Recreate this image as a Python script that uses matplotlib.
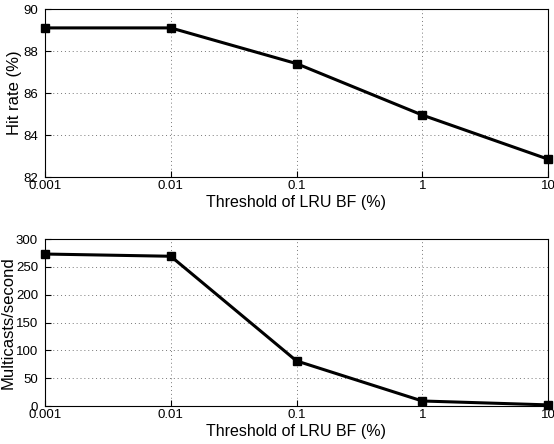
import matplotlib.pyplot as plt
import matplotlib.ticker as mticker

plt.rcParams['font.family'] = ['Liberation Sans', 'DejaVu Sans']

# data
thresholds = [0.001, 0.01, 0.1, 1, 10]
tick_labels = ["0.001", "0.01", "0.1", "1", "10"]
hit_rate = [89.1, 89.1, 87.4, 84.95, 82.85]
multicasts = [273, 269, 81, 9, 2]

fig = plt.figure(figsize=(5.54, 4.44), dpi=100)
ax1 = fig.add_axes([45/554, 1-177/444, 503/554, 168/444])
ax2 = fig.add_axes([45/554, 1-406/444, 503/554, 167/444])


def style(ax, ylim, yticks, ylabel, label_x):
    ax.set_xscale("log")
    ax.set_xlim(0.001, 10)
    ax.set_xticks(thresholds)
    ax.set_xticklabels(tick_labels)
    ax.xaxis.set_minor_locator(mticker.NullLocator())
    ax.set_ylim(*ylim)
    ax.set_yticks(yticks)
    ax.tick_params(direction="in", labelsize=9.5, length=4)
    ax.tick_params(axis="y", pad=5)
    ax.tick_params(axis="x", pad=2)
    ax.grid(True, linestyle=(0, (1, 3)), color="#777777", linewidth=0.7)
    ax.set_xlabel("Threshold of LRU BF (%)", fontsize=11.5, labelpad=2)
    ax.set_ylabel(ylabel, fontsize=12)
    ax.yaxis.set_label_coords(label_x, 0.5)
    for s in ax.spines.values():
        s.set_linewidth(0.8)


ax1.plot(thresholds, hit_rate, color="black", linewidth=2.2,
         marker="s", markersize=6, clip_on=False, zorder=3)
style(ax1, (82, 90), [82, 84, 86, 88, 90], "Hit rate (%)", -0.046)

ax2.plot(thresholds, multicasts, color="black", linewidth=2.2,
         marker="s", markersize=6, clip_on=False, zorder=3)
style(ax2, (0, 300), [0, 50, 100, 150, 200, 250, 300], "Multicasts/second", -0.058)

plt.savefig("out.png", dpi=100)
